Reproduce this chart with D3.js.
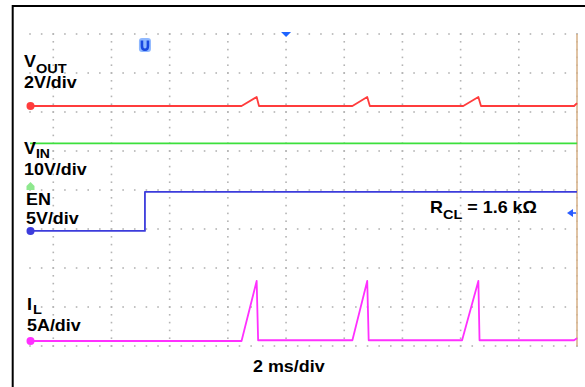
<!DOCTYPE html>
<html>
<head>
<meta charset="utf-8">
<script src="https://cdn.jsdelivr.net/npm/d3@7"></script>
<style>
  html, body { margin: 0; padding: 0; background: #fff; }
  svg { display: block; }
  text { font-family: "Liberation Sans", Arial, sans-serif; font-weight: bold; fill: #000; }
</style>
</head>
<body>
<svg id="chart" width="585" height="387"></svg>
<script>
// ---- data (time in ms relative to screen centre, values in physical units) ----
const timeDomain = [-10, 10];          // 10 div x 2 ms/div
const divDomain = [-4, 4];             // 8 vertical divisions

const voutTime  = [-8.8, -1.53, -1.01, -0.93, 2.28, 2.79, 2.88, 6.09, 6.61, 6.70, 9.90, 10.0];
const voutValue = [0, 0, 0.46, 0, 0, 0.46, 0, 0, 0.46, 0, 0, 0.15];

const vinTime  = [-8.8, 10.0];
const vinValue = [11.2, 11.2];

const enTime  = [-8.8, -4.85, -4.85, 10.0];
const enValue = [0, 0, 5.0, 5.0];

const ilTime  = [-8.8, -1.53, -1.01, -0.96, -0.93, 2.28, 2.79, 2.84, 2.88, 6.05, 6.61, 6.65, 6.70, 9.90, 10.0];
const ilValue = [0, 0, 7.7, 0.1, 0.1, 0.1, 7.7, 0.1, 0.1, 0.1, 7.7, 0.1, 0.1, 0.1, 0.35];

const channels = [
  { name: "VOUT", time: voutTime, value: voutValue, perDiv: 2,  offsetDiv: 2.154,  color: "#ff3c3c" },
  { name: "VIN",  time: vinTime,  value: vinValue,  perDiv: 10, offsetDiv: 0.077,  color: "#3ce03c" },
  { name: "EN",   time: enTime,   value: enValue,   perDiv: 5,  offsetDiv: -1.05,  color: "#3c3cdc" },
  { name: "IL",   time: ilTime,   value: ilValue,   perDiv: 5,  offsetDiv: -3.872, color: "#ff30ff" }
];

const timeTicks = d3.range(-10, 10.01, 2);      // major vertical grid (ms)
const divTicks  = d3.range(-4, 4.01, 1);         // major horizontal grid (div)

// ---- scales ----
const svg = d3.select("#chart");
const x = d3.scaleLinear().domain(timeDomain).range([-4.9, 577]);
const y = d3.scaleLinear().domain(divDomain).range([346, 34]);
const xVisibleStart = 30;

// ---- frame (top + left) ----
svg.append("line").attr("x1", 12.5).attr("x2", 585).attr("y1", 6).attr("y2", 6)
  .attr("stroke", "#000").attr("stroke-width", 2);
svg.append("line").attr("x1", 12.7).attr("x2", 12.7).attr("y1", 5).attr("y2", 387)
  .attr("stroke", "#000").attr("stroke-width", 2);

// ---- dotted grid ----
const grid = svg.append("g");
const minorX = (x(2) - x(0)) / 5;
const minorY = (y(0) - y(1)) / 5;
divTicks.forEach(d => {
  const yy = y(d);
  for (let xx = x(10); xx >= xVisibleStart - 0.5; xx -= minorX) {
    grid.append("rect").attr("x", xx - 0.8).attr("y", yy - 0.8).attr("width", 1.6).attr("height", 1.6)
      .attr("fill", "#b4b4b4");
  }
});
timeTicks.forEach(t => {
  const xx = x(t);
  if (xx < xVisibleStart) return;
  for (let yy = y(4); yy <= y(-4) + 0.5; yy += minorY) {
    grid.append("rect").attr("x", xx - 0.8).attr("y", yy - 0.8).attr("width", 1.6).attr("height", 1.6)
      .attr("fill", "#b4b4b4");
  }
});
// right edge of the screen
svg.append("line").attr("x1", x(10)).attr("x2", x(10)).attr("y1", y(4)).attr("y2", y(-4))
  .attr("stroke", "#d9b48c").attr("stroke-width", 1.6);

// ---- traces ----
const line = d3.line().x(d => x(d[0])).y(d => y(d[1]));
channels.forEach(ch => {
  const pts = ch.time.map((t, i) => [t, ch.offsetDiv + ch.value[i] / ch.perDiv]);
  svg.append("path").attr("d", line(pts)).attr("fill", "none")
    .attr("stroke", ch.color).attr("stroke-width", 1.8).attr("stroke-linejoin", "round");
});

// ---- ground markers ----
const markerX = xVisibleStart + 0.5;
[channels[0], channels[2], channels[3]].forEach(ch => {
  svg.append("circle").attr("cx", markerX).attr("cy", y(ch.offsetDiv)).attr("r", 4).attr("fill", ch.color);
});
{
  const gy = y(channels[1].offsetDiv);
  svg.append("path")
    .attr("d", `M${markerX - 4},${gy + 3} L${markerX - 4},${gy - 1} L${markerX},${gy - 5} L${markerX + 4},${gy - 1} L${markerX + 4},${gy + 3} Z`)
    .attr("fill", "#8ee88e");
}

// trigger level marker (right, pointing left) on EN
{
  const ty = y(channels[2].offsetDiv + 2.3 / channels[2].perDiv);
  const tx = x(10) - 2;
  svg.append("path").attr("d", `M${tx - 8},${ty} L${tx - 2},${ty - 4} L${tx - 2},${ty + 4} Z`).attr("fill", "#2a5cff");
  svg.append("line").attr("x1", tx - 3).attr("x2", tx + 1).attr("y1", ty).attr("y2", ty).attr("stroke", "#2a5cff").attr("stroke-width", 1.6);
}
// centre marker at top
{
  const cx = x(0);
  svg.append("path").attr("d", `M${cx - 5},${y(4) - 2} L${cx + 5},${y(4) - 2} L${cx},${y(4) + 3} Z`).attr("fill", "#1e64ff");
}
// trigger position marker
{
  const px = x(-4.85);
  const g = svg.append("g").attr("transform", `translate(${px},${45})`);
  g.append("rect").attr("x", -6).attr("y", -7).attr("width", 12).attr("height", 14).attr("rx", 3).attr("fill", "#8fb8ff");
  g.append("path").attr("d", "M-3,-4.5 L-3,1 Q-3,4.8 0,4.8 Q3,4.8 3,1 L3,-4.5").attr("fill", "none")
    .attr("stroke", "#1848e0").attr("stroke-width", 2.6);
}

// ---- labels ----
const sx = 1.12;
function label(xx, yy, parts, size) {
  const t = svg.append("text").attr("transform", `translate(${xx},${yy}) scale(${sx},1)`).attr("font-size", size);
  parts.forEach(p => {
    const ts = t.append("tspan").text(p.text);
    if (p.size) ts.attr("font-size", p.size);
    if (p.dy) ts.attr("dy", p.dy);
    if (p.dx) ts.attr("dx", p.dx);
  });
  return t;
}
label(24, 66.7, [{ text: "V" }, { text: "OUT", size: 13, dy: 6 }], 16);
label(24, 88.3, [{ text: "2V/div" }], 16);
label(24, 154, [{ text: "V" }, { text: "IN", size: 12.5, dy: 4 }], 16);
label(24, 175, [{ text: "10V/div" }], 16);
label(26, 205, [{ text: "EN" }], 16);
label(26, 224.3, [{ text: "5V/div" }], 16);
label(27, 310, [{ text: "I" }, { text: "L", size: 13, dy: 4, dx: 1 }], 16);
label(27, 331, [{ text: "5A/div" }], 16);
label(430, 213, [{ text: "R" }, { text: "CL", size: 13, dy: 6 }, { text: " = 1.6 kΩ", dy: -6 }], 16);
label(253, 371.7, [{ text: "2 ms/div" }], 16);
</script>
</body>
</html>
